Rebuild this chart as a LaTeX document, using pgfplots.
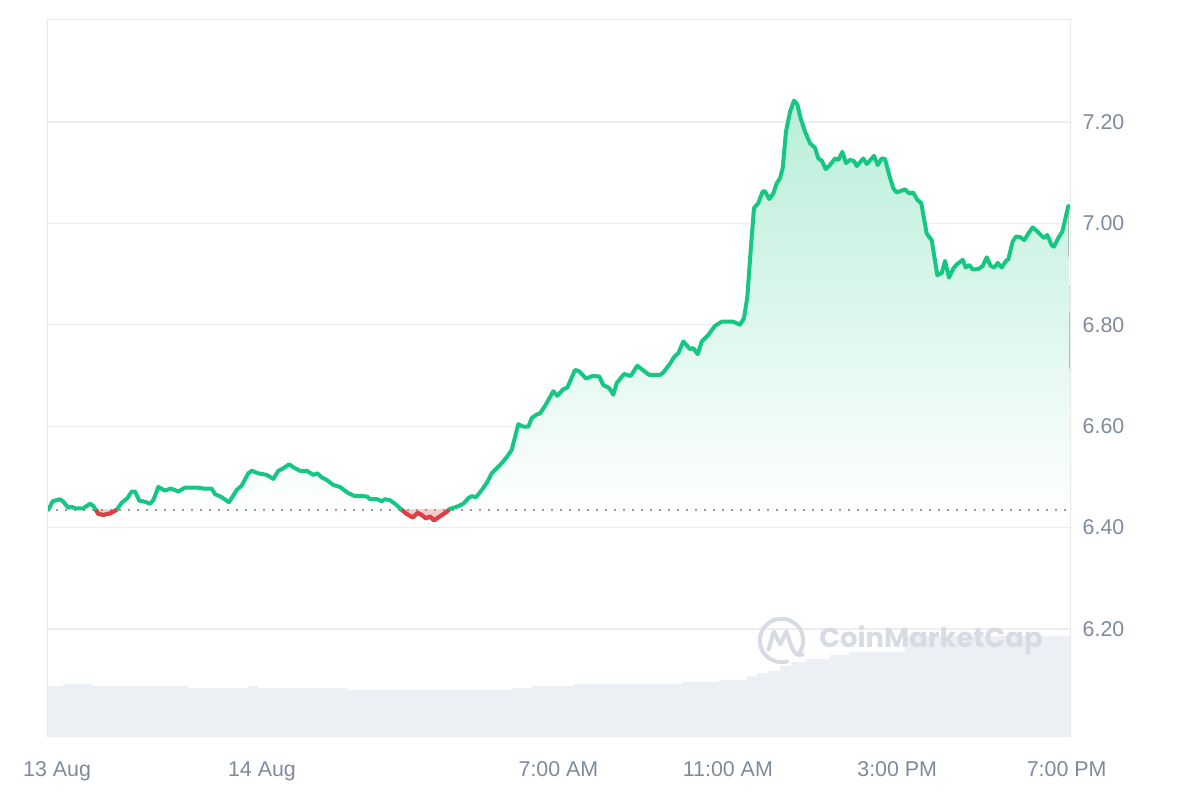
\documentclass[border=0pt]{standalone}
\usepackage{fontspec}
\setmainfont{Liberation Sans}
\newfontfamily\wmfont{Poppins}
\usepackage{pgfplots}
\usepackage{pgfplotstable}
\pgfplotsset{compat=1.18}
\usepgfplotslibrary{fillbetween}

\definecolor{upgreen}{RGB}{22,199,132}
\definecolor{downred}{RGB}{234,57,67}
\definecolor{labelc}{RGB}{128,138,157}
\definecolor{gridc}{RGB}{236,238,241}
\definecolor{framec}{RGB}{234,234,234}
\definecolor{volc}{RGB}{236,240,244}
\definecolor{wmc}{RGB}{214,219,228}

% price, x in hours from 14 Aug 00:00
\pgfplotstableread{
h p
-5.046 6.435
-4.942 6.452
-4.770 6.456
-4.692 6.451
-4.574 6.439
-4.494 6.441
-4.416 6.438
-4.220 6.438
-4.061 6.447
-3.984 6.443
-3.866 6.427
-3.747 6.425
-3.589 6.428
-3.431 6.435
-3.313 6.449
-3.181 6.458
-3.077 6.471
-2.999 6.471
-2.897 6.453
-2.763 6.451
-2.645 6.447
-2.567 6.454
-2.449 6.480
-2.290 6.473
-2.156 6.477
-2.054 6.474
-1.976 6.471
-1.818 6.479
-1.542 6.479
-1.386 6.477
-1.188 6.477
-1.110 6.466
-0.952 6.460
-0.779 6.450
-0.597 6.474
-0.479 6.483
-0.324 6.507
-0.243 6.512
-0.087 6.507
0.111 6.504
0.267 6.496
0.385 6.512
0.503 6.517
0.645 6.525
0.739 6.519
0.897 6.512
1.056 6.512
1.211 6.504
1.306 6.507
1.410 6.499
1.528 6.494
1.684 6.484
1.842 6.480
2.038 6.468
2.196 6.462
2.392 6.462
2.487 6.461
2.550 6.456
2.723 6.456
2.826 6.452
2.904 6.456
3.022 6.454
3.141 6.447
3.299 6.435
3.417 6.427
3.559 6.420
3.676 6.429
3.771 6.425
3.872 6.418
3.967 6.422
4.061 6.414
4.163 6.420
4.361 6.431
4.439 6.437
4.597 6.441
4.753 6.447
4.871 6.458
4.952 6.462
5.053 6.460
5.188 6.474
5.306 6.488
5.424 6.507
5.542 6.517
5.660 6.527
5.778 6.539
5.896 6.553
6.052 6.604
6.170 6.599
6.288 6.599
6.368 6.616
6.486 6.623
6.564 6.625
6.683 6.640
6.879 6.669
6.973 6.660
7.115 6.673
7.209 6.676
7.391 6.711
7.492 6.708
7.651 6.694
7.809 6.699
7.965 6.698
8.059 6.681
8.201 6.675
8.295 6.662
8.376 6.685
8.548 6.703
8.706 6.699
8.862 6.719
9.145 6.701
9.398 6.701
9.476 6.706
9.634 6.723
9.728 6.736
9.830 6.744
9.948 6.767
10.106 6.752
10.184 6.754
10.288 6.742
10.383 6.767
10.538 6.780
10.697 6.798
10.855 6.806
11.129 6.806
11.287 6.800
11.381 6.813
11.460 6.855
11.540 6.948
11.617 7.030
11.719 7.040
11.823 7.063
11.877 7.063
11.979 7.048
12.073 7.059
12.153 7.079
12.232 7.089
12.295 7.109
12.373 7.181
12.468 7.220
12.562 7.242
12.640 7.235
12.720 7.207
12.822 7.181
12.940 7.158
13.058 7.149
13.136 7.128
13.216 7.124
13.311 7.107
13.412 7.115
13.530 7.128
13.608 7.125
13.703 7.141
13.790 7.119
13.884 7.125
13.979 7.123
14.043 7.113
14.198 7.128
14.279 7.117
14.451 7.133
14.538 7.115
14.633 7.128
14.711 7.127
14.812 7.095
14.907 7.069
14.987 7.061
15.183 7.067
15.285 7.059
15.372 7.061
15.478 7.046
15.566 7.040
15.695 6.980
15.813 6.967
15.946 6.898
16.050 6.902
16.128 6.926
16.222 6.893
16.324 6.911
16.418 6.920
16.546 6.928
16.616 6.913
16.701 6.918
16.782 6.909
16.914 6.910
17.018 6.916
17.112 6.933
17.207 6.916
17.292 6.913
17.372 6.922
17.466 6.913
17.568 6.926
17.622 6.929
17.726 6.964
17.804 6.974
17.899 6.973
18.000 6.967
18.095 6.980
18.198 6.992
18.307 6.984
18.465 6.971
18.543 6.977
18.647 6.957
18.701 6.954
18.803 6.971
18.898 6.984
19.039 7.034
}\pricetab

% volume (relative units)
\pgfplotstableread{
h v
-5.10 51
-4.70 53
-3.99 51
-1.73 49
-0.31 51
-0.09 49
2.01 47
5.92 49
6.38 51
7.37 53
9.92 55
10.79 57
11.45 61
11.69 64
11.95 66
12.23 71
12.49 75
12.87 78
13.41 82
13.86 85
15.18 101
19.11 101
}\voltab

\begin{document}
\begin{tikzpicture}
\path (0,0) rectangle (600pt,400pt);

% volume bars
\begin{axis}[
    at={(23.5pt,31.5pt)}, anchor=south west,
    scale only axis, width=512pt, height=359pt,
    xmin=-5.077, xmax=19.103, ymin=0, ymax=718,
    hide axis
]
\addplot[const plot, fill=volc, draw=none] table[x=h, y=v] {\voltab} \closedcycle;
\end{axis}

% price
\begin{axis}[
    at={(23.5pt,31.5pt)}, anchor=south west,
    scale only axis, width=512pt, height=359pt,
    xmin=-5.077, xmax=19.103, ymin=5.987, ymax=7.403,
    set layers,
    axis line style={draw=none},
    major tick length=0pt,
    xtick={-4.84,0,7,11,15,19},
    xticklabels={13 Aug, 14 Aug, 7:00 AM, 11:00 AM, 3:00 PM, 7:00 PM},
    ytick={6.2,6.4,6.6,6.8,7.0,7.2},
    yticklabels={6.20,6.40,6.60,6.80,7.00,7.20},
    yticklabel pos=right,
    ymajorgrids,
    grid style={gridc, line width=0.6pt},
    tick label style={font=\fontsize{10.7}{12}\selectfont, text=labelc},
    xticklabel style={anchor=base, yshift=-19.5pt},
    yticklabel style={anchor=west, xshift=2.3pt},
]
\addplot[name path=price, draw=none, forget plot] table[x=h, y=p] {\pricetab};
\addplot[name path=base, draw=none, forget plot] coordinates {(-5.077,6.435) (19.103,6.435)};
\addplot[draw=none, top color=upgreen!30, bottom color=white, on layer=axis background]
    fill between[of=price and base];
\addplot[draw=none, fill=downred!28] fill between[of=price and base, soft clip={domain=-3.925:-3.431}];
\addplot[draw=none, fill=downred!28] fill between[of=price and base, soft clip={domain=3.299:4.413}];
\addplot[gray!80, line width=1pt, dash pattern=on 1pt off 3.5pt] coordinates {(-5.077,6.435) (19.103,6.435)};
\addplot[upgreen, line width=2pt, line join=round, line cap=round] table[x=h, y=p] {\pricetab};
\addplot[downred, line width=2pt, line join=round] coordinates {
(-3.925,6.435) (-3.866,6.427) (-3.747,6.425) (-3.589,6.428) (-3.431,6.435)};
\addplot[downred, line width=2pt, line join=round] coordinates {
(3.299,6.435) (3.417,6.427) (3.559,6.420) (3.676,6.429) (3.771,6.425) (3.872,6.418)
(3.967,6.422) (4.061,6.414) (4.163,6.420) (4.361,6.431) (4.413,6.435)};
\draw[framec, line width=1pt] (rel axis cs:0,0) -- (rel axis cs:0,1) -- (rel axis cs:1,1) -- (rel axis cs:1,0);
\end{axis}

% watermark
\begin{scope}[shift={(390.75pt,79.75pt)}, wmc, line width=2pt, line cap=round, line join=round]
\draw (-35:10.85pt) arc[start angle=-35, end angle=285, radius=10.85pt];
\draw (-6.5pt,-4.5pt) -- (-3.8pt,4.5pt) -- (-0.6pt,-2pt) -- (2.4pt,4.5pt) -- (5pt,-3pt)
      .. controls (6pt,-6pt) and (8pt,-8pt) .. (10.5pt,-7pt);
\end{scope}
\node[wmc, inner sep=0pt] at (465.5pt,80pt) {\wmfont\bfseries\fontsize{13.7}{16}\selectfont CoinMarketCap};
\end{tikzpicture}
\end{document}
